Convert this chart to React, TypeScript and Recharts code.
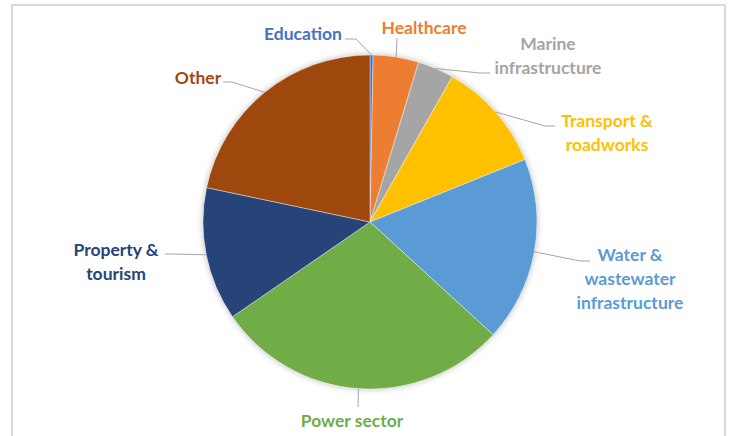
import { Cell, Pie, PieChart } from "recharts";

const categories = [
  "Education",
  "Healthcare",
  "Marine infrastructure",
  "Transport & roadworks",
  "Water & wastewater infrastructure",
  "Power sector",
  "Property & tourism",
  "Other",
];

// share of total, in %
const shares = [0.3, 4.4, 3.5, 10.7, 17.9, 28.6, 12.9, 21.7];

const colors = ["#4472C4", "#ED7D31", "#A5A5A5", "#FFC000", "#5B9BD5", "#70AD47", "#264478", "#9E480E"];

// label text split into lines, as Excel wraps them
const labelLines = [
  ["Education"],
  ["Healthcare"],
  ["Marine", "infrastructure"],
  ["Transport  &", "roadworks"],
  ["Water &", "wastewater", "infrastructure"],
  ["Power sector"],
  ["Property &", "tourism"],
  ["Other"],
];

// where each label sits: text centre, first line y, and leader elbow / end points
const labelLayout = [
  { x: 303, y: 33, elbow: [356, 39], end: [345, 39] },
  { x: 424, y: 27, elbow: [397, 38], end: [397, 38] },
  { x: 548, y: 43, elbow: [480, 73], end: [490, 73] },
  { x: 607, y: 120, elbow: [545, 126], end: [555, 126] },
  { x: 630, y: 254, elbow: [580, 261], end: [590, 261] },
  { x: 352, y: 420, elbow: [358, 407], end: [358, 407] },
  { x: 116, y: 249, elbow: [175, 254], end: [165, 254] },
  { x: 198, y: 77, elbow: [232, 82], end: [223, 82] },
];

const data = categories.map((name, i) => ({ name, value: shares[i] }));

const RAD = Math.PI / 180;
const LINE_H = 24;

function renderLabel(props: any) {
  const { cx, cy, midAngle, outerRadius, index } = props;
  const lay = labelLayout[index];
  const sx = cx + outerRadius * Math.cos(-midAngle * RAD);
  const sy = cy + outerRadius * Math.sin(-midAngle * RAD);
  const lines = labelLines[index];
  return (
    <g key={`lbl-${index}`}>
      <polyline
        points={`${sx},${sy} ${lay.elbow[0]},${lay.elbow[1]} ${lay.end[0]},${lay.end[1]}`}
        fill="none"
        stroke="#A6A6A6"
        strokeWidth={1}
      />
      <text
        x={lay.x}
        y={lay.y}
        fill={colors[index]}
        textAnchor="middle"
        dominantBaseline="central"
        fontFamily="Lato, sans-serif"
        fontWeight={700}
        fontSize={17.5}
      >
        {lines.map((l, j) => (
          <tspan key={j} x={lay.x} dy={j === 0 ? 0 : LINE_H}>
            {l}
          </tspan>
        ))}
      </text>
    </g>
  );
}

export default function App() {
  return (
    <div style={{ position: "absolute", top: 0, left: 0, width: 732, height: 436, background: "#fff" }}>
      <style>{`.pie-shadow .recharts-sector { filter: drop-shadow(0 0 3px rgba(0,0,0,0.28)); }`}</style>
      <div
        style={{
          position: "absolute",
          left: 11,
          top: 4,
          width: 715,
          height: 440,
          border: "2px solid #D9D9D9",
          borderBottom: "none",
          boxSizing: "border-box",
        }}
      />
      <div style={{ position: "absolute", left: 0, top: 0 }}>
        <PieChart width={732} height={436} margin={{ top: 0, right: 0, bottom: 0, left: 0 }}>
          {/* soft shadow behind the pie, like Excel's default */}
          <Pie
            data={[{ name: "all", value: 1 }]}
            dataKey="value"
            cx={370}
            cy={222}
            outerRadius={167}
            startAngle={90}
            endAngle={-270}
            stroke="none"
            fill="#ffffff"
            className="pie-shadow"
            isAnimationActive={false}
          />
          <Pie
            data={data}
            dataKey="value"
            nameKey="name"
            cx={370}
            cy={222}
            outerRadius={167}
            startAngle={90}
            endAngle={-270}
            stroke="#ffffff"
            strokeWidth={0.4}
            label={renderLabel}
            labelLine={false}
            isAnimationActive={false}
          >
            {data.map((d, i) => (
              <Cell key={d.name} fill={colors[i]} />
            ))}
          </Pie>
        </PieChart>
      </div>
    </div>
  );
}
